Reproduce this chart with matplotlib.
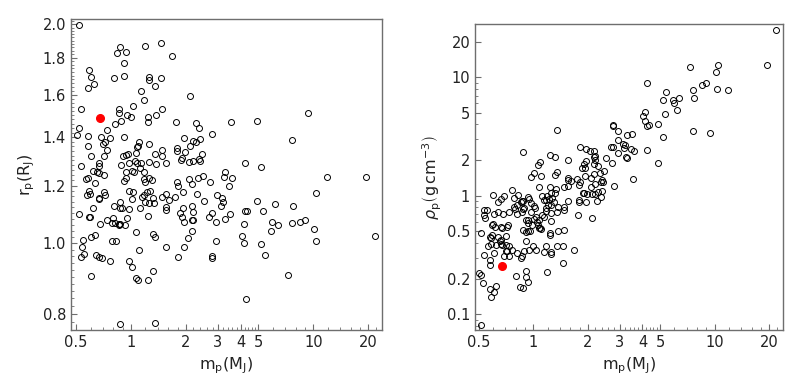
import matplotlib
matplotlib.use("Agg")
import matplotlib.pyplot as plt
from matplotlib.ticker import FixedLocator, NullFormatter, FixedFormatter
import numpy as np

plt.rcParams['font.family'] = ['DejaVu Sans']
plt.rcParams['mathtext.fontset'] = 'dejavusans'

# planet masses (M_J) and radii (R_J)
mass = [
    0.518, 1.46, 0.874, 1.193, 0.841, 0.935, 1.68, 0.915, 0.589, 0.606,
    0.807, 0.912, 1.255, 1.26, 1.46, 0.578, 0.627, 1.35, 1.14, 2.106,
    1.183, 0.53, 1.03, 1.485, 0.86, 0.863, 0.95, 1.0, 1.366, 1.24,
    1.24, 0.885, 0.817, 1.758, 3.535, 4.89, 9.39, 2.26, 2.37, 0.518,
    0.735, 0.506, 0.578, 0.688, 0.764, 0.915, 2.78, 1.945, 7.63, 2.2,
    2.28, 2.39, 0.705, 0.72, 0.58, 1.088, 1.11, 1.083, 1.26, 1.485,
    0.739, 2.106, 1.065, 1.36, 1.485, 0.908, 0.935, 0.958, 0.606, 0.708,
    1.78, 1.795, 1.98, 2.44, 1.905, 1.88, 2.07, 2.19, 2.35, 2.39,
    4.22, 1.557, 1.366, 0.877, 0.979, 1.056, 1.083, 1.14, 1.26, 0.672,
    0.665, 0.534, 0.621, 0.654, 0.665, 0.708, 0.564, 0.583, 0.637, 0.939,
    1.013, 1.039, 1.125, 1.174, 0.915, 0.935, 1.174, 1.2, 1.255, 1.298,
    5.19, 2.47, 3.28, 3.24, 3.58, 11.85, 19.4, 1.78, 1.81, 2.08,
    2.17, 2.34, 2.72, 3.45, 0.586, 0.596, 0.576, 0.665, 0.67, 0.715,
    0.723, 0.971, 1.021, 1.013, 0.866, 0.81, 0.874, 0.893, 0.971, 1.149,
    1.174, 1.198, 1.25, 1.125, 1.224, 1.276, 0.616, 0.516, 0.59, 0.598,
    0.679, 0.738, 0.793, 0.787, 0.814, 0.856, 0.863, 0.874, 0.951, 0.931,
    1.07, 1.24, 0.637, 0.606, 0.543, 0.538, 0.787, 0.827, 0.555, 0.534,
    0.643, 0.665, 0.694, 1.102, 1.315, 1.337, 1.485, 1.549, 1.615, 1.742,
    1.921, 2.29, 2.52, 2.95, 3.15, 3.21, 3.11, 1.556, 1.556, 1.936,
    2.15, 1.856, 1.913, 1.961, 2.197, 2.15, 2.19, 2.77, 2.68, 2.92,
    3.28, 3.49, 1.326, 1.354, 2.15, 2.045, 1.549, 1.95, 2.93, 1.818,
    2.77, 2.77, 0.764, 0.604, 0.971, 1.013, 1.065, 1.092, 1.24, 1.32,
    0.874, 1.35, 4.89, 6.18, 7.74, 5.32, 4.24, 4.33, 4.15, 5.94,
    6.38, 7.63, 8.5, 8.95, 10.36, 10.13, 10.38, 5.88, 5.19, 5.42,
    4.05, 4.15, 7.3, 4.26, 21.8,
]
radius = [
    1.995, 1.887, 1.863, 1.868, 1.829, 1.833, 1.81, 1.77, 1.733, 1.693,
    1.686, 1.70, 1.691, 1.676, 1.686, 1.635, 1.655, 1.645, 1.62, 1.594,
    1.572, 1.53, 1.545, 1.53, 1.532, 1.51, 1.50, 1.49, 1.50, 1.49,
    1.466, 1.472, 1.46, 1.47, 1.467, 1.474, 1.512, 1.463, 1.44, 1.44,
    1.43, 1.41, 1.405, 1.40, 1.395, 1.40, 1.415, 1.395, 1.388, 1.383,
    1.379, 1.393, 1.37, 1.376, 1.362, 1.362, 1.378, 1.356, 1.368, 1.344,
    1.342, 1.362, 1.329, 1.325, 1.319, 1.319, 1.322, 1.327, 1.32, 1.32,
    1.353, 1.34, 1.336, 1.325, 1.309, 1.302, 1.293, 1.296, 1.307, 1.297,
    1.289, 1.289, 1.286, 1.28, 1.289, 1.299, 1.291, 1.288, 1.295, 1.291,
    1.278, 1.278, 1.258, 1.253, 1.248, 1.243, 1.227, 1.229, 1.211, 1.252,
    1.258, 1.252, 1.268, 1.254, 1.218, 1.228, 1.224, 1.213, 1.231, 1.222,
    1.272, 1.239, 1.252, 1.235, 1.231, 1.235, 1.235, 1.213, 1.199, 1.226,
    1.206, 1.228, 1.213, 1.199, 1.181, 1.169, 1.165, 1.151, 1.155, 1.175,
    1.165, 1.181, 1.175, 1.151, 1.141, 1.125, 1.117, 1.117, 1.115, 1.159,
    1.165, 1.141, 1.135, 1.119, 1.175, 1.18, 1.119, 1.096, 1.088, 1.086,
    1.062, 1.077, 1.082, 1.065, 1.065, 1.062, 1.06, 1.062, 1.082, 1.06,
    1.038, 1.091, 1.027, 1.021, 1.011, 0.989, 1.007, 1.007, 0.966, 0.959,
    0.964, 0.959, 0.956, 0.979, 1.153, 1.135, 1.159, 1.169, 1.147, 1.159,
    1.175, 1.169, 1.144, 1.165, 1.155, 1.139, 1.124, 1.122, 1.111, 1.117,
    1.127, 1.10, 1.086, 1.071, 1.105, 1.077, 1.077, 1.10, 1.088, 1.071,
    1.079, 1.096, 1.029, 1.021, 1.04, 1.018, 0.989, 0.989, 1.008, 0.959,
    0.962, 0.955, 0.947, 0.902, 0.945, 0.929, 0.897, 0.889, 0.889, 0.916,
    0.774, 0.776, 1.143, 1.134, 1.125, 1.107, 1.109, 1.106, 1.064, 1.07,
    1.058, 1.067, 1.07, 1.077, 1.174, 1.046, 1.006, 1.04, 0.999, 0.965,
    1.023, 1.002, 0.905, 0.839, 1.023,
]
# highlighted planet
hl_mass = 0.676
hl_radius = 1.488

# bulk density in g cm^-3 (Jupiter mass / equatorial-radius volume = 1.24 g cm^-3)
RHO_J = 1.24
mass = np.array(mass)
radius = np.array(radius)
density = RHO_J * mass / radius**3
hl_density = RHO_J * hl_mass / hl_radius**3

x_ticks = [0.5, 1, 2, 3, 4, 5, 10, 20]
x_ticklabels = ["0.5", "1", "2", "3", "4", "5", "10", "20"]
r_ticks = [0.8, 1.0, 1.2, 1.4, 1.6, 1.8, 2.0]
r_ticklabels = ["0.8", "1.0", "1.2", "1.4", "1.6", "1.8", "2.0"]
rho_ticks = [0.1, 0.2, 0.5, 1, 2, 5, 10, 20]
rho_ticklabels = ["0.1", "0.2", "0.5", "1", "2", "5", "10", "20"]

spine_col = '#6e6e6e'
text_col = '#222222'

fig = plt.figure(figsize=(8, 3.87), dpi=100)
ax1 = fig.add_axes([71/800, 1 - 330/387, 311/800, 311/387])
ax2 = fig.add_axes([475/800, 1 - 330/387, 308/800, 305.7/387])

def style(ax):
    for s in ax.spines.values():
        s.set_color(spine_col)
        s.set_linewidth(1.0)
    ax.tick_params(which='both', direction='in', colors=spine_col,
                   labelcolor=text_col, labelsize=10.5, top=False, right=False)
    ax.tick_params(which='major', length=4, width=0.8)
    ax.tick_params(which='minor', length=2, width=0.6)

mk = dict(ls='none', marker='o', mfc='none', mec='black', ms=4.3, mew=0.7)
red = dict(ls='none', marker='o', mfc='red', mec='red', ms=5.5)

# left panel
ax1.set_xscale('log')
ax1.set_yscale('log')
ax1.plot(mass, radius, **mk)
ax1.plot([hl_mass], [hl_radius], **red)
ax1.set_xlim(0.469, 23.8)
ax1.set_ylim(0.760, 2.034)
ax1.xaxis.set_major_locator(FixedLocator(x_ticks))
ax1.xaxis.set_major_formatter(FixedFormatter(x_ticklabels))
xminor = [0.6, 0.7, 0.8, 0.9] + [1.2, 1.4, 1.6, 1.8] + [2.2, 2.4, 2.6, 2.8] + \
         [3.2, 3.4, 3.6, 3.8, 4.2, 4.4, 4.6, 4.8] + [6, 7, 8, 9] + [12, 14, 16, 18, 22]
ax1.xaxis.set_minor_locator(FixedLocator(xminor))
ax1.xaxis.set_minor_formatter(NullFormatter())
ax1.yaxis.set_major_locator(FixedLocator(r_ticks))
ax1.yaxis.set_major_formatter(FixedFormatter(r_ticklabels))
ax1.yaxis.set_minor_locator(FixedLocator(list(np.arange(0.76, 2.03, 0.02))))
ax1.yaxis.set_minor_formatter(NullFormatter())
style(ax1)
ax1.set_xlabel(r'$\mathrm{m_p(M_J)}$', fontsize=11.5, color=text_col, labelpad=4)
ax1.set_ylabel(r'$\mathrm{r_p(R_J)}$', fontsize=11.5, color=text_col, labelpad=4)

# right panel
ax2.set_xscale('log')
ax2.set_yscale('log')
ax2.plot(mass, density, **mk)
ax2.plot([hl_mass], [hl_density], **red)
ax2.set_xlim(0.478, 23.8)
ax2.set_ylim(0.0736, 27.95)
ax2.xaxis.set_major_locator(FixedLocator(x_ticks))
ax2.xaxis.set_major_formatter(FixedFormatter(x_ticklabels))
ax2.xaxis.set_minor_locator(FixedLocator(xminor))
ax2.xaxis.set_minor_formatter(NullFormatter())
ax2.yaxis.set_major_locator(FixedLocator(rho_ticks))
ax2.yaxis.set_major_formatter(FixedFormatter(rho_ticklabels))
yminor2 = [0.08, 0.09, 0.3, 0.4, 0.6, 0.7, 0.8, 0.9, 3, 4, 6, 7, 8, 9]
ax2.yaxis.set_minor_locator(FixedLocator(yminor2))
ax2.yaxis.set_minor_formatter(NullFormatter())
style(ax2)
ax2.set_xlabel(r'$\mathrm{m_p(M_J)}$', fontsize=11.5, color=text_col, labelpad=4)
ax2.set_ylabel(r'$\rho_\mathrm{p}\left(\mathrm{g\,cm^{-3}}\right)$', fontsize=11.5,
               color=text_col, labelpad=2)

fig.savefig('out.png', dpi=100)
